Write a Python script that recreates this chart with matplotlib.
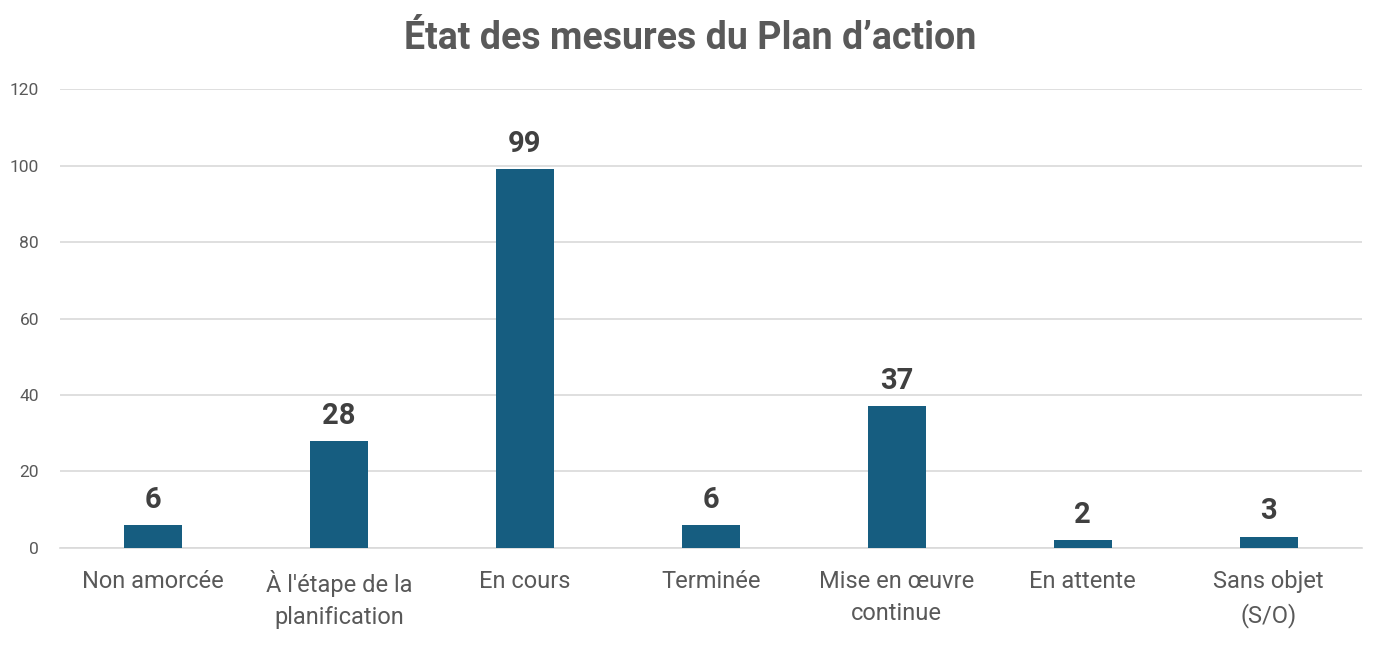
import matplotlib
matplotlib.use("Agg")
import matplotlib.pyplot as plt

# data
categories = ["Non amorcée", "À l'étape de la\nplanification", "En cours", "Terminée",
              "Mise en œuvre\ncontinue", "En attente", "Sans objet\n(S/O)"]
values = [6, 28, 99, 6, 37, 2, 3]
yticks = [0, 20, 40, 60, 80, 100, 120]

plt.rcParams['font.family'] = ['Roboto', 'DejaVu Sans']

fig = plt.figure(figsize=(13.81, 6.45), dpi=100)
ax = fig.add_axes([0.0434, 0.1504, 0.9426, 0.7116])

x = range(len(categories))
bars = ax.bar(x, values, width=0.31, color="#165d80", zorder=3)

# value labels above the bars
for b, v in zip(bars, values):
    ax.annotate(str(v), (b.get_x() + b.get_width() / 2, v), xytext=(0, 8),
                textcoords="offset points", ha="center", va="bottom",
                fontsize=21, fontweight="bold", color="#404040")

ax.set_xlim(-0.5, len(categories) - 0.5)
ax.set_ylim(0, 120)
ax.set_yticks(yticks)
ax.set_xticks(list(x))
ax.set_xticklabels(categories, fontsize=17, color="#595959", linespacing=1.5)
ax.tick_params(axis="y", labelsize=12.5, colors="#595959", length=0, pad=15)
ax.tick_params(axis="x", length=0, pad=16)
ax.grid(axis="y", color="#d9d9d9", linewidth=1.2, zorder=0)
for s in ["top", "right", "left"]:
    ax.spines[s].set_visible(False)
ax.spines["bottom"].set_color("#d9d9d9")
ax.spines["bottom"].set_linewidth(1.2)

fig.text(0.5, 0.94, "État des mesures du Plan d’action", ha="center", va="center",
         fontsize=27, fontweight="bold", color="#595959")

fig.savefig("out.png", dpi=100)
